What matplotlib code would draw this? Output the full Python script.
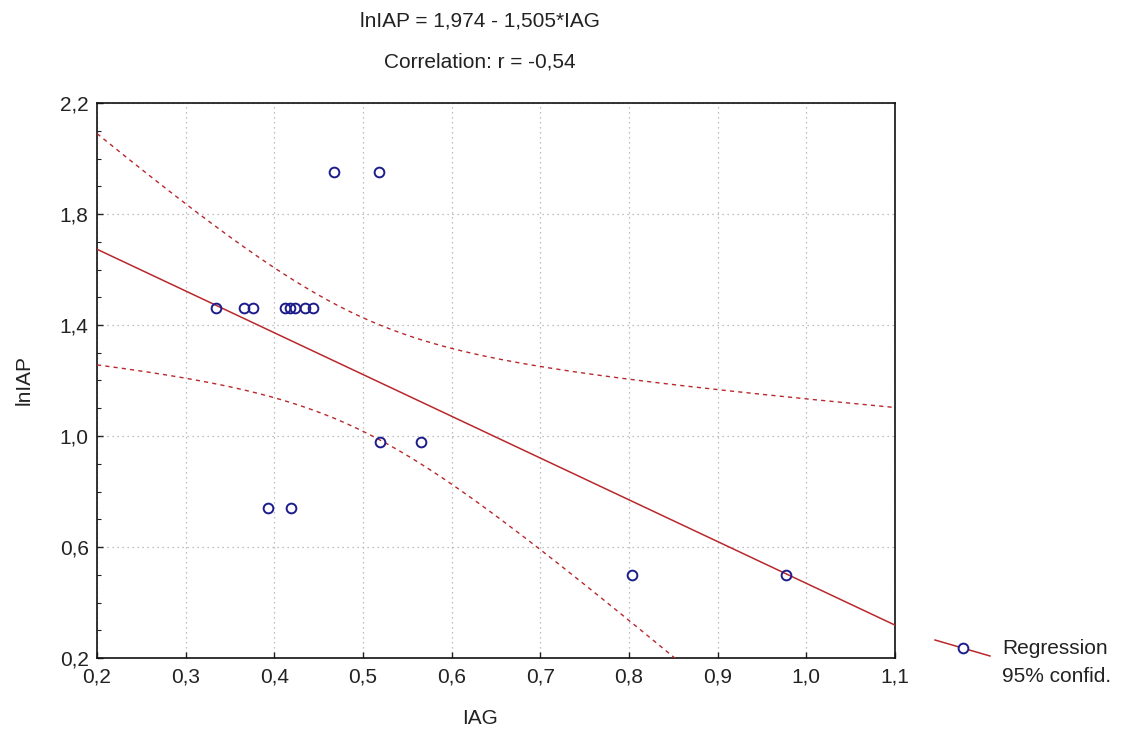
import matplotlib
matplotlib.use("Agg")
import matplotlib.pyplot as plt
import numpy as np
from matplotlib.ticker import FuncFormatter, MultipleLocator, FixedLocator
from matplotlib.lines import Line2D

plt.rcParams['font.family'] = ['Liberation Sans', 'DejaVu Sans']

# observations (IAG, lnIAP)
iag = [0.334, 0.366, 0.376, 0.412, 0.418, 0.423, 0.435, 0.444,
       0.467, 0.518,
       0.519, 0.565,
       0.393, 0.419,
       0.803, 0.977]
lniap = [1.46, 1.46, 1.46, 1.46, 1.46, 1.46, 1.46, 1.46,
         1.95, 1.95,
         0.98, 0.98,
         0.74, 0.74,
         0.50, 0.50]

xticks = [0.2, 0.3, 0.4, 0.5, 0.6, 0.7, 0.8, 0.9, 1.0, 1.1]
yticks = [0.2, 0.6, 1.0, 1.4, 1.8, 2.2]

intercept = 1.974
slope = -1.505
r_value = -0.54
t_crit = 2.1448  # t(0.975, df=14)

x = np.array(iag)
y = np.array(lniap)
n = len(x)
xbar = x.mean()
sxx = ((x - xbar) ** 2).sum()
resid = y - (intercept + slope * x)
s = np.sqrt((resid ** 2).sum() / (n - 2))

xs = np.linspace(0.2, 1.1, 300)
fit = intercept + slope * xs
hw = t_crit * s * np.sqrt(1.0 / n + (xs - xbar) ** 2 / sxx)

red = '#b8282c'
blue = '#1c1c8c'
txt = '#222222'
fs = 15

fig = plt.figure(figsize=(11.25, 7.37), dpi=100)
ax = fig.add_axes([97 / 1125, 1 - 658 / 737, 798 / 1125, 555 / 737])

ax.plot(xs, fit, color=red, lw=1.1, zorder=3)
ax.plot(xs, fit + hw, color=red, lw=1.0, ls=(0, (3, 3)), zorder=3)
ax.plot(xs, fit - hw, color=red, lw=1.0, ls=(0, (3, 3)), zorder=3)
ax.plot(x, y, ls='none', marker='o', ms=7, mfc='none', mec=blue, mew=1.4, zorder=4)

ax.set_xlim(0.2, 1.1)
ax.set_ylim(0.2, 2.2)
ax.xaxis.set_major_locator(FixedLocator(xticks))
ax.yaxis.set_major_locator(FixedLocator(yticks))
ax.yaxis.set_minor_locator(MultipleLocator(0.1))
comma = FuncFormatter(lambda v, p: ('%.1f' % v).replace('.', ','))
ax.xaxis.set_major_formatter(comma)
ax.yaxis.set_major_formatter(comma)
ax.tick_params(which='both', direction='in', labelsize=fs, colors=txt)
ax.tick_params(which='major', length=4, width=1)
ax.tick_params(which='minor', length=3, width=0.8)
ax.tick_params(axis='x', pad=7)
ax.tick_params(axis='y', pad=6)
ax.grid(True, which='major', color='#aaaaaa', ls=(0, (1, 3)), lw=0.9)
for sp in ax.spines.values():
    sp.set_color('#111111')
    sp.set_linewidth(1.2)

fig.text(480 / 1125, 1 - 21 / 737, 'lnIAP = 1,974 - 1,505*IAG',
         ha='center', va='center', fontsize=fs, color=txt)
fig.text(480 / 1125, 1 - 62 / 737, 'Correlation: r = ' + ('%.2f' % r_value).replace('.', ','),
         ha='center', va='center', fontsize=fs, color=txt)
fig.text(480 / 1125, 1 - 718 / 737, 'IAG', ha='center', va='center',
         fontsize=fs, color=txt)
fig.text(24 / 1125, 1 - 380 / 737, 'lnIAP', ha='center', va='center',
         rotation=90, fontsize=fs, color=txt)

# legend entry: line with marker
lx = np.array([935, 990]) / 1125
ly = 1 - np.array([640, 656]) / 737
fig.add_artist(Line2D(lx, ly, color=red, lw=1.1))
fig.add_artist(Line2D([lx.mean()], [ly.mean()], ls='none', marker='o', ms=7,
                      mfc='white', mec=blue, mew=1.4))
fig.text(1002 / 1125, 1 - 648 / 737, 'Regression', ha='left', va='center',
         fontsize=fs, color=txt)
fig.text(1002 / 1125, 1 - 676 / 737, '95% confid.', ha='left', va='center',
         fontsize=fs, color=txt)

fig.savefig('out.png', dpi=100, facecolor='white')
